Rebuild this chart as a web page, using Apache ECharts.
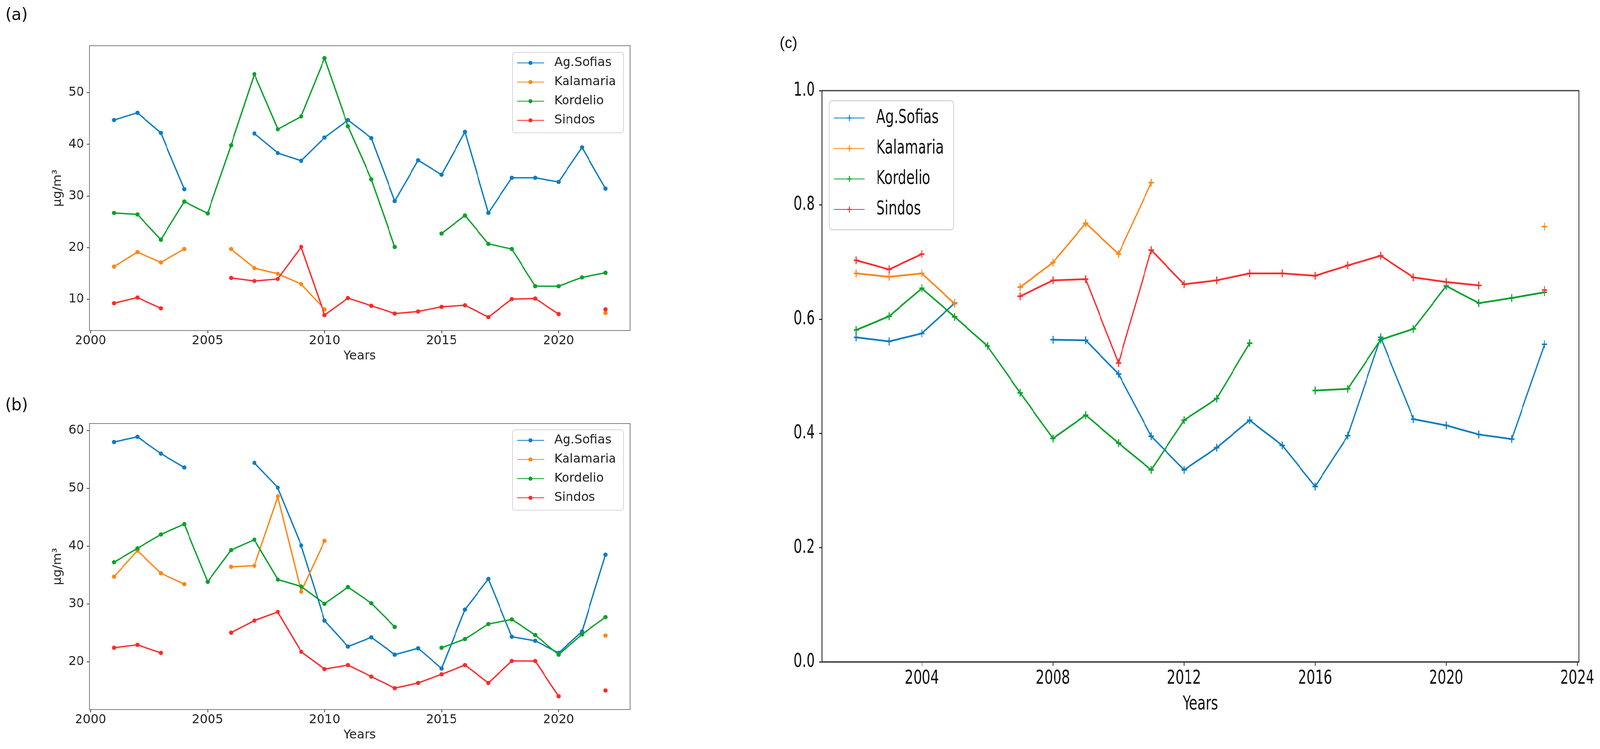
<!DOCTYPE html>
<html>
<head>
<meta charset="utf-8">
<script src="https://cdn.jsdelivr.net/npm/echarts@6/dist/echarts.min.js"></script>
<style>
html, body { margin: 0; padding: 0; overflow: hidden; background: #fff; }
#stage { position: absolute; left: 0; top: 0; width: 4168px; height: 1917px; overflow: hidden;
         transform-origin: 0 0; background: #fff; }
#main { position: absolute; left: 0; top: 0; width: 4168px; height: 1917px; }
/* panel (c) is drawn wide and squeezed, like the reference */
#wrapC { position: absolute; left: 1950px; top: 0; width: 2218px; height: 1917px; overflow: hidden; }
#panelC { position: absolute; left: 0; top: 0; width: 3169px; height: 1917px;
          transform: scaleX(0.7); transform-origin: 0 0; }
</style>
</head>
<body>
<div id="stage">
  <div id="main"></div>
  <div id="wrapC"><div id="panelC"></div></div>
</div>
<script>
// the window may be narrower than the 4168px figure: squeeze the stage to fit
var fitX = Math.min(1, window.innerWidth / 4168);
document.getElementById('stage').style.transform = 'scaleX(' + fitX + ')';

var stations = ['Ag.Sofias', 'Kalamaria', 'Kordelio', 'Sindos'];
var colors = ['#0b7dc1', '#ff8614', '#05a22a', '#ff2a2a'];

// panels (a) and (b): 2001 - 2022
var yearsAB = [2001, 2002, 2003, 2004, 2005, 2006, 2007, 2008, 2009, 2010, 2011,
               2012, 2013, 2014, 2015, 2016, 2017, 2018, 2019, 2020, 2021, 2022];
var xTicksAB = [2000, 2005, 2010, 2015, 2020];

var sofiasA    = [44.7, 46.1, 42.2, 31.3, null, null, 42.1, 38.3, 36.8, 41.3, 44.7,
                  41.2, 29.0, 36.9, 34.1, 42.4, 26.7, 33.5, 33.5, 32.7, 39.4, 31.4];
var kalamariaA = [16.3, 19.1, 17.1, 19.7, null, 19.7, 16.0, 14.9, 12.9, 8.0, null,
                  null, null, null, null, null, null, null, null, null, null, 7.3];
var kordelioA  = [26.7, 26.4, 21.5, 28.9, 26.6, 39.8, 53.6, 42.9, 45.4, 56.7, 43.5,
                  33.2, 20.1, null, 22.7, 26.2, 20.7, 19.7, 12.5, 12.5, 14.2, 15.1];
var sindosA    = [9.2, 10.3, 8.2, null, null, 14.1, 13.5, 13.9, 20.1, 6.9, 10.2,
                  8.7, 7.2, 7.6, 8.5, 8.8, 6.5, 10.0, 10.1, 7.1, null, 8.0];
var yTicksA = [10, 20, 30, 40, 50];

var sofiasB    = [58.0, 58.9, 56.0, 53.6, null, null, 54.4, 50.1, 40.1, 27.1, 22.6,
                  24.2, 21.2, 22.3, 18.8, 29.0, 34.3, 24.3, 23.6, 21.5, 25.2, 38.5];
var kalamariaB = [34.7, 39.2, 35.3, 33.4, null, 36.4, 36.6, 48.6, 32.1, 40.9, null,
                  null, null, null, null, null, null, null, null, null, null, 24.5];
var kordelioB  = [37.2, 39.6, 42.0, 43.8, 33.8, 39.3, 41.1, 34.2, 33.0, 30.0, 32.9,
                  30.1, 26.0, null, 22.4, 23.9, 26.5, 27.3, 24.6, 21.2, 24.7, 27.7];
var sindosB    = [22.4, 22.9, 21.5, null, null, 25.0, 27.1, 28.6, 21.7, 18.7, 19.4,
                  17.4, 15.4, 16.3, 17.8, 19.4, 16.3, 20.1, 20.1, 14.0, null, 15.0];
var yTicksB = [20, 30, 40, 50, 60];

// panel (c): 2002 - 2023
var yearsC = [2002, 2003, 2004, 2005, 2006, 2007, 2008, 2009, 2010, 2011, 2012,
              2013, 2014, 2015, 2016, 2017, 2018, 2019, 2020, 2021, 2022, 2023];
var xTicksC = [2004, 2008, 2012, 2016, 2020, 2024];

var sofiasC    = [0.568, 0.561, 0.575, 0.628, null, null, 0.564, 0.563, 0.504, 0.395, 0.336,
                  0.375, 0.423, 0.379, 0.307, 0.396, 0.568, 0.425, 0.414, 0.398, 0.390, 0.556];
var kalamariaC = [0.680, 0.674, 0.680, 0.627, null, 0.656, 0.699, 0.768, 0.714, 0.839, null,
                  null, null, null, null, null, null, null, null, null, null, 0.762];
var kordelioC  = [0.581, 0.605, 0.654, 0.604, 0.553, 0.471, 0.391, 0.432, 0.383, 0.336, 0.423,
                  0.461, 0.558, null, 0.475, 0.478, 0.564, 0.583, 0.658, 0.628, 0.637, 0.647];
var sindosC    = [0.703, 0.687, 0.714, null, null, 0.640, 0.668, 0.670, 0.523, 0.721, 0.661,
                  0.668, 0.680, 0.680, 0.676, 0.694, 0.711, 0.673, 0.665, 0.659, null, 0.651];

var font = 'DejaVu Sans';
var plusPath = 'path://M-2,-10H2V-2H10V2H2V10H-2V2H-10V-2H-2Z';

function pairs(xs, ys) {
    return xs.map(function (x, i) { return [x, ys[i] == null ? '-' : ys[i]]; });
}

function lineSeries(name, idx, xs, ys, axis, opt) {
    return {
        name: name,
        type: 'line',
        xAxisIndex: axis,
        yAxisIndex: axis,
        data: pairs(xs, ys),
        color: colors[idx],
        symbol: opt.symbol,
        symbolSize: opt.symbolSize,
        showSymbol: true,
        showAllSymbol: true,
        connectNulls: false,
        lineStyle: { width: opt.lineWidth, color: colors[idx] },
        itemStyle: { color: colors[idx] },
        emphasis: { disabled: true },
        z: 3 + idx
    };
}

function xAxisAB(grid) {
    return {
        type: 'value', gridIndex: grid, min: 1999.95, max: 2023.05,
        axisLine: { show: true, onZero: false, lineStyle: { color: '#7d7d7d', width: 2 } },
        axisTick: { show: true, length: 7, customValues: xTicksAB, lineStyle: { color: '#444', width: 2 } },
        axisLabel: { customValues: xTicksAB, fontSize: 32, color: '#222', fontFamily: font, margin: 11,
                     formatter: function (v) { return String(v); } },
        splitLine: { show: false },
        name: 'Years', nameLocation: 'middle', nameGap: 50,
        nameTextStyle: { fontSize: 32, color: '#222', fontFamily: font }
    };
}

function yAxisAB(grid, min, max, ticks) {
    return {
        type: 'value', gridIndex: grid, min: min, max: max,
        axisLine: { show: true, onZero: false, lineStyle: { color: '#7d7d7d', width: 2 } },
        axisTick: { show: true, length: 7, customValues: ticks, lineStyle: { color: '#444', width: 2 } },
        axisLabel: { customValues: ticks, fontSize: 32, color: '#222', fontFamily: font, margin: 14,
                     formatter: function (v) { return String(v); } },
        splitLine: { show: false },
        name: 'μg/m³', nameLocation: 'middle', nameGap: 66, nameRotate: 90,
        nameTextStyle: { fontSize: 32, color: '#222', fontFamily: font }
    };
}

function legendAB(top) {
    return {
        data: stations, orient: 'vertical', left: 1335, top: top,
        itemWidth: 70, itemHeight: 13, itemGap: 17,
        padding: [11, 19, 16, 11],
        borderColor: '#d6d6d6', borderWidth: 2, borderRadius: 7,
        backgroundColor: 'rgba(255,255,255,0.8)',
        selectedMode: false,
        textStyle: { fontSize: 32, color: '#222', fontFamily: font, padding: [0, 0, 0, 22] }
    };
}

var styleAB = { symbol: 'circle', symbolSize: 11, lineWidth: 3.5 };
var seriesAB = [];
[sofiasA, kalamariaA, kordelioA, sindosA].forEach(function (ys, i) {
    seriesAB.push(lineSeries(stations[i], i, yearsAB, ys, 0, styleAB));
});
[sofiasB, kalamariaB, kordelioB, sindosB].forEach(function (ys, i) {
    seriesAB.push(lineSeries(stations[i], i, yearsAB, ys, 1, styleAB));
});

var main = echarts.init(document.getElementById('main'), null, { width: 4168, height: 1917 });
main.setOption({
    animation: false,
    backgroundColor: '#fff',
    grid: [
        { left: 233, top: 117, width: 1408, height: 729, show: true, borderColor: '#7d7d7d', borderWidth: 2 },
        { left: 233, top: 1084, width: 1408, height: 732, show: true, borderColor: '#7d7d7d', borderWidth: 2 }
    ],
    xAxis: [xAxisAB(0), xAxisAB(1)],
    yAxis: [yAxisAB(0, 3.9, 59.1, yTicksA), yAxisAB(1, 11.7, 61.2, yTicksB)],
    legend: [legendAB(134), legendAB(1100)],
    series: seriesAB,
    graphic: [
        { type: 'text', x: 43, y: 40, style: { text: '(a)', fontSize: 42, fontFamily: font, fill: '#111', align: 'center', verticalAlign: 'middle' } },
        { type: 'text', x: 43, y: 1039, style: { text: '(b)', fontSize: 42, fontFamily: font, fill: '#111', align: 'center', verticalAlign: 'middle' } },
        { type: 'text', x: 2054, y: 112, style: { text: '(c)', fontSize: 40, fontFamily: 'Liberation Sans', fill: '#111', align: 'center', verticalAlign: 'middle' } }
    ]
});

var styleC = { symbol: plusPath, symbolSize: 20, lineWidth: 4.5 };
var seriesC = [sofiasC, kalamariaC, kordelioC, sindosC].map(function (ys, i) {
    return lineSeries(stations[i], i, yearsC, ys, 0, styleC);
});

var chartC = echarts.init(document.getElementById('panelC'), null, { width: 3169, height: 1917 });
chartC.setOption({
    animation: false,
    backgroundColor: 'transparent',
    grid: { left: 273, top: 232, width: 2817, height: 1462, show: true, borderColor: '#333', borderWidth: 3 },
    xAxis: {
        type: 'value', min: 2000.95, max: 2024.05,
        axisLine: { show: true, onZero: false, lineStyle: { color: '#333', width: 3 } },
        axisTick: { show: true, length: 10, customValues: xTicksC, lineStyle: { color: '#333', width: 3 } },
        axisLabel: { customValues: xTicksC, fontSize: 50, color: '#111', fontFamily: font, margin: 18,
                     formatter: function (v) { return String(v); } },
        splitLine: { show: false },
        name: 'Years', nameLocation: 'middle', nameGap: 84,
        nameTextStyle: { fontSize: 50, color: '#111', fontFamily: font }
    },
    yAxis: {
        type: 'value', min: 0, max: 1, interval: 0.2,
        axisLine: { show: true, onZero: false, lineStyle: { color: '#333', width: 3 } },
        axisTick: { show: true, length: 10, lineStyle: { color: '#333', width: 3 } },
        axisLabel: { fontSize: 50, color: '#111', fontFamily: font, margin: 26,
                     formatter: function (v) { return v.toFixed(1); } },
        splitLine: { show: false }
    },
    legend: {
        data: stations, orient: 'vertical', left: 300, top: 258,
        itemWidth: 114, itemHeight: 20, itemGap: 28,
        padding: [19, 37, 27, 17],
        borderColor: '#d6d6d6', borderWidth: 3, borderRadius: 10,
        backgroundColor: 'rgba(255,255,255,0.8)',
        selectedMode: false,
        textStyle: { fontSize: 50, color: '#111', fontFamily: font, padding: [0, 0, 0, 38] }
    },
    series: seriesC
});
</script>
</body>
</html>
